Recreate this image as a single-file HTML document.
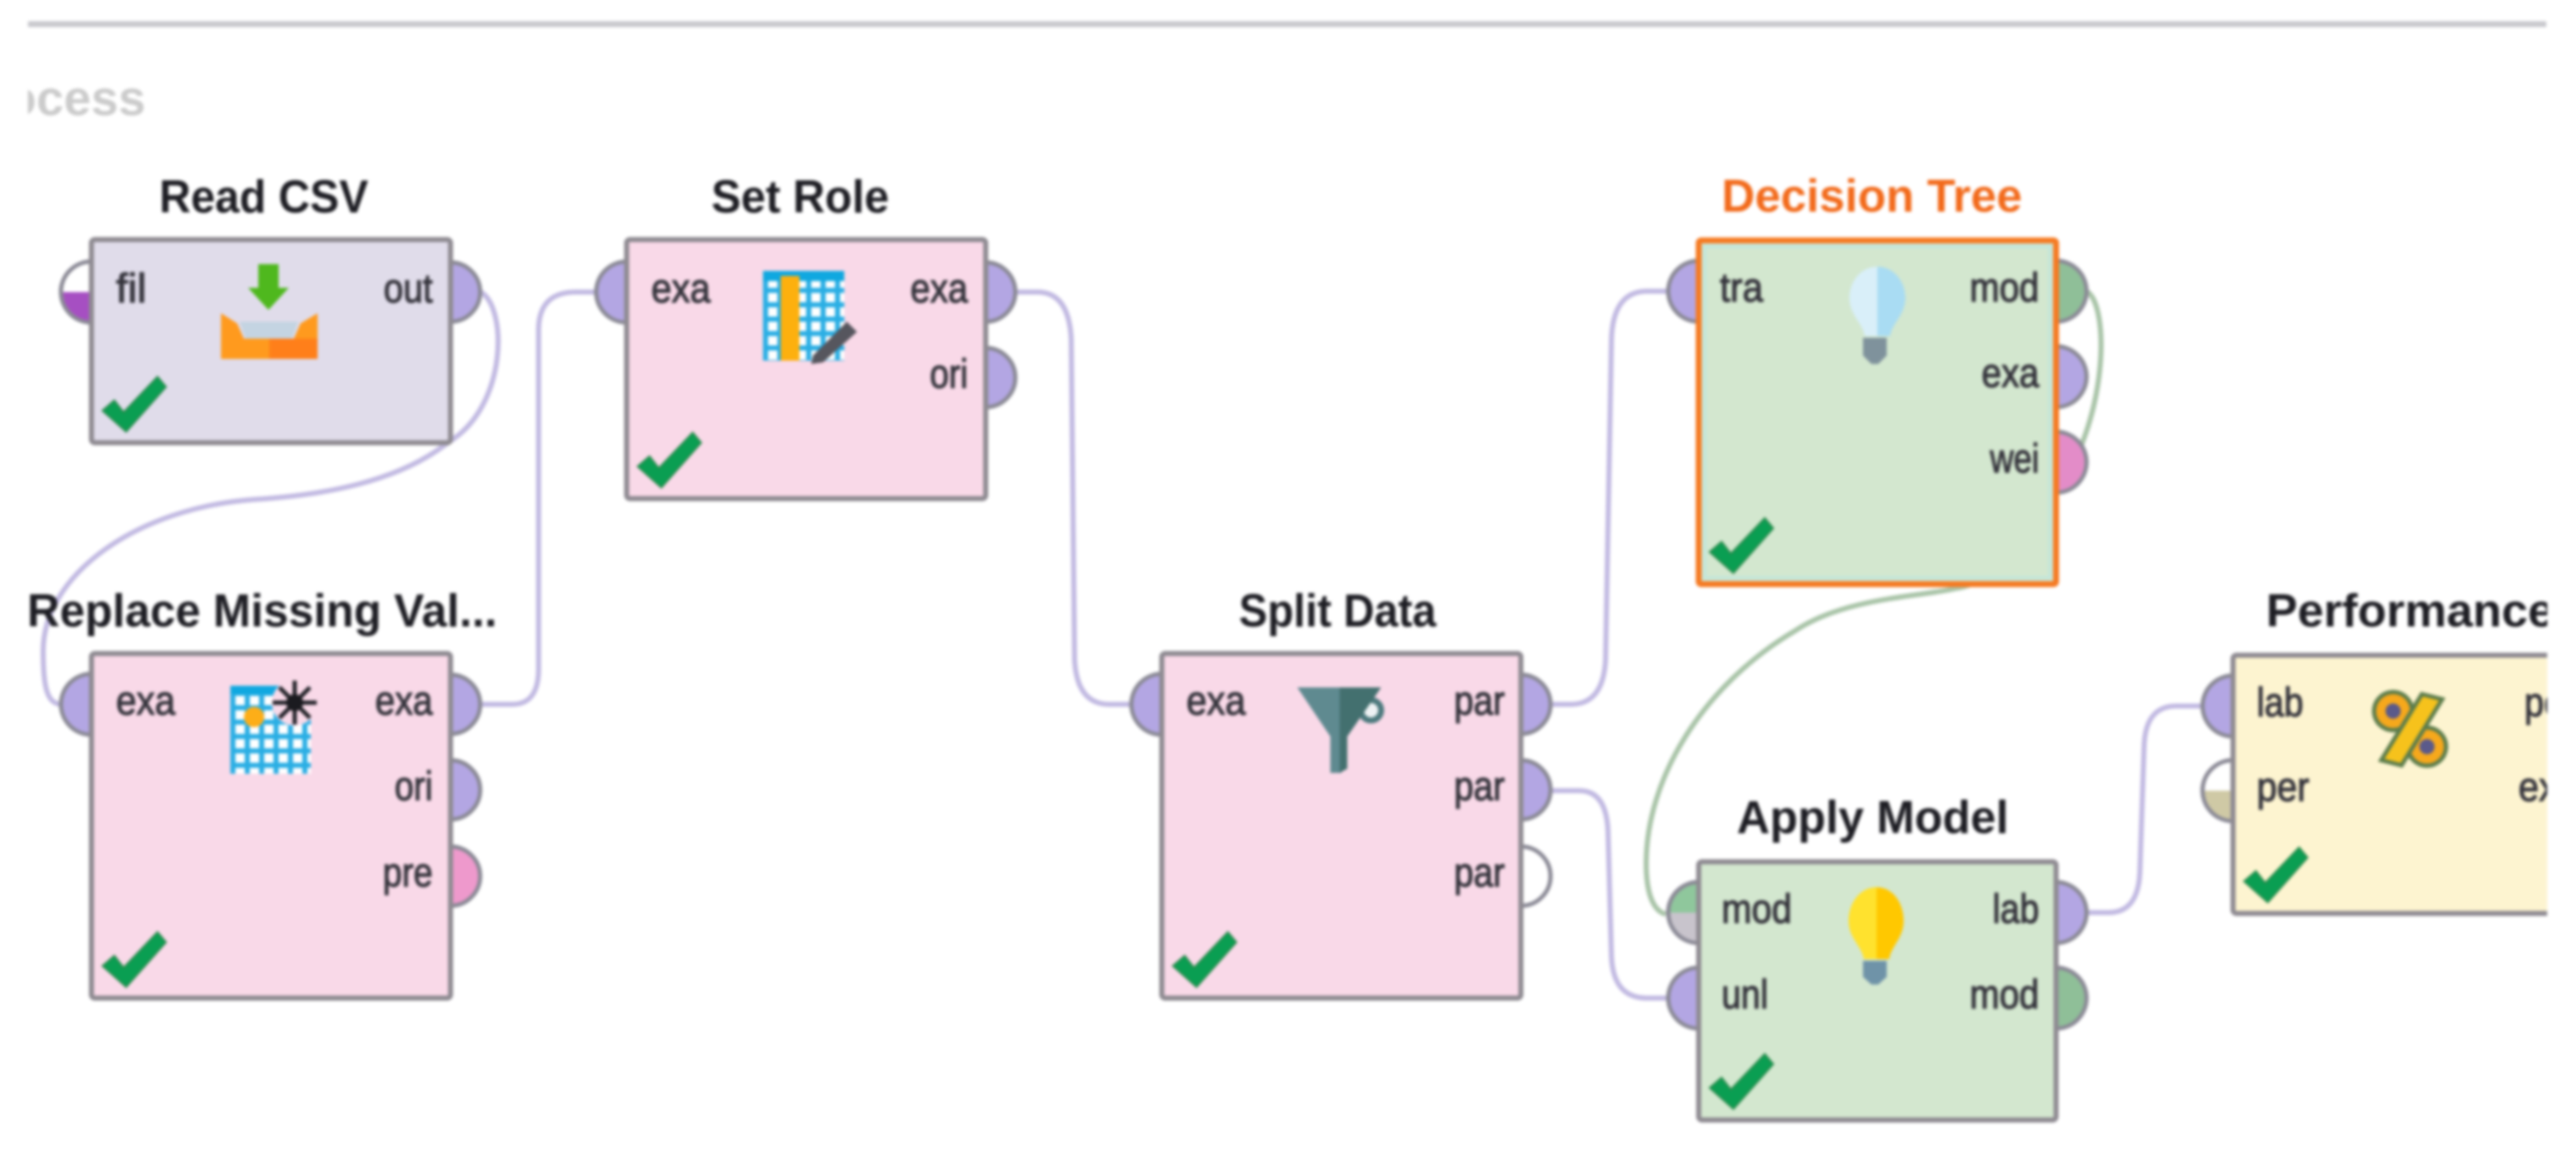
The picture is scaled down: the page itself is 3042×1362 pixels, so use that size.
<!DOCTYPE html>
<html lang="en">
<head>
<meta charset="utf-8">
<title>Process</title>
<style>
html,body{margin:0;padding:0;background:#fff;width:3042px;height:1362px;overflow:hidden}
svg{display:block;filter:blur(1.8px)}
.t{font-family:"Liberation Sans",sans-serif;font-weight:700;font-size:55px;fill:#1e1e24}
.l{font-family:"Liberation Sans",sans-serif;font-size:48px;fill:#35343c;stroke:#35343c;stroke-width:1.2px}
.b{stroke:#8f8b92;stroke-width:6}
.p{stroke:#8b8a96;stroke-width:5}
.w{fill:none;stroke:#c2bae2;stroke-width:6}
</style>
</head>
<body>
<svg xmlns="http://www.w3.org/2000/svg" width="3042" height="1362" viewBox="0 0 3042 1362">
<defs>
<clipPath id="cp"><rect x="33" y="60" width="200" height="100"/></clipPath>
<clipPath id="cr"><rect x="0" y="0" width="3008" height="1362"/></clipPath>
<clipPath id="top1"><rect x="60" y="300" width="60" height="45"/></clipPath>
<clipPath id="top2"><rect x="1950" y="1030" width="60" height="48"/></clipPath>
<clipPath id="top3"><rect x="2590" y="890" width="50" height="44"/></clipPath>
<pattern id="grid" x="0" y="0" width="17" height="17" patternUnits="userSpaceOnUse">
<rect width="17" height="17" fill="#ffffff"/>
<rect width="6" height="17" fill="#2aaee4"/>
<rect width="17" height="6" fill="#2aaee4"/>
</pattern>
<polygon id="ck" points="13,-38 27,-50 38,-36 78,-78 88,-66 41,-13" fill="#0a9e52" stroke="#2b8b4d" stroke-width="2"/>
</defs>
<rect width="3042" height="1362" fill="#fff"/>

<rect x="33" y="25" width="2974" height="7" fill="#c9c9ce"/>
<text x="172" y="136" text-anchor="end" clip-path="url(#cp)" font-family="'Liberation Sans',sans-serif" font-weight="700" font-size="58" fill="#cbcbcb">Process</text>

<!-- connectors -->
<path class="w" d="M566 344 C600 360 600 480 530 522 C470 570 380 585 300 590 C160 600 50 680 51 770 C51 810 55 832 73 832"/>
<path class="w" d="M566 832 L605 832 Q636 832 636 790 L636 390 Q636 345 680 345 L703 345"/>
<path class="w" d="M1199 345 L1225 345 Q1262 345 1265 400 L1269 780 Q1272 832 1310 832 L1338 832"/>
<path class="w" d="M1830 832 L1855 832 Q1893 832 1896 780 L1903 400 Q1905 344 1945 344 L1971 344"/>
<path class="w" d="M1830 934 L1865 934 Q1898 934 1899 985 L1903 1130 Q1905 1179 1945 1179 L1971 1179"/>
<path class="w" d="M2464 1078 L2490 1078 Q2525 1078 2527 1030 L2532 880 Q2534 834 2570 834 L2602 834"/>
<path class="w" style="stroke:#a9c4a8" d="M2464 344 C2492 360 2490 500 2425 585 C2400 640 2350 690 2310 695 C2270 705 2180 705 2120 745 C2010 810 1944 920 1944 1020 C1944 1050 1950 1075 1967 1080"/>

<!-- ports -->
<g class="p">
<circle cx="108" cy="345" r="36" fill="#a64fc2"/>
<circle cx="108" cy="345" r="36" fill="#ffffff" clip-path="url(#top1)"/>
<circle cx="532" cy="345" r="35" fill="#b3a6e3"/>
<circle cx="740" cy="345" r="36" fill="#b3a6e3"/>
<circle cx="1164" cy="345" r="35" fill="#b3a6e3"/>
<circle cx="1164" cy="446" r="35" fill="#b3a6e3"/>
<circle cx="108" cy="832" r="36" fill="#b3a6e3"/>
<circle cx="532" cy="832" r="35" fill="#b3a6e3"/>
<circle cx="532" cy="933" r="35" fill="#b3a6e3"/>
<circle cx="532" cy="1035" r="35" fill="#ee99cc"/>
<circle cx="1372" cy="832" r="36" fill="#b3a6e3"/>
<circle cx="1796" cy="832" r="35" fill="#b3a6e3"/>
<circle cx="1796" cy="933" r="35" fill="#b3a6e3"/>
<circle cx="1796" cy="1035" r="35" fill="#ffffff"/>
<circle cx="2006" cy="344" r="36" fill="#b3a6e3"/>
<circle cx="2428" cy="344" r="36" fill="#8fbf98"/>
<circle cx="2428" cy="445" r="36" fill="#b3a6e3"/>
<circle cx="2428" cy="546" r="36" fill="#e38cc8"/>
<circle cx="2006" cy="1078" r="36" fill="#c8c4cc"/>
<circle cx="2006" cy="1078" r="36" fill="#8fc79c" clip-path="url(#top2)"/>
<circle cx="2006" cy="1179" r="36" fill="#b3a6e3"/>
<circle cx="2428" cy="1078" r="36" fill="#b3a6e3"/>
<circle cx="2428" cy="1179" r="36" fill="#8fbf98"/>
<circle cx="2637" cy="834" r="36" fill="#b3a6e3"/>
<circle cx="2637" cy="934" r="36" fill="#cfc9a5"/>
<circle cx="2637" cy="934" r="36" fill="#ffffff" clip-path="url(#top3)"/>
</g>

<!-- boxes -->
<rect class="b" x="108" y="283" width="424" height="240" rx="4" fill="#e0dcea"/>
<rect class="b" x="740" y="283" width="424" height="306" rx="4" fill="#f9d9e8"/>
<rect class="b" x="108" y="772" width="424" height="407" rx="4" fill="#f9d9e8"/>
<rect class="b" x="1372" y="772" width="424" height="407" rx="4" fill="#f9d9e8"/>
<rect x="2006" y="284" width="422" height="406" rx="3" fill="#d3e7cf" stroke="#f57a22" stroke-width="7"/>
<rect x="2013" y="291" width="408" height="392" fill="none" stroke="#c4e6da" stroke-width="5"/>
<rect class="b" x="2006" y="1018" width="422" height="305" rx="4" fill="#d3e7cf"/>
<g clip-path="url(#cr)"><rect class="b" x="2637" y="774" width="460" height="305" rx="4" fill="#fdf4d0"/></g>

<!-- titles -->
<text class="t" x="188" y="251" textLength="247" lengthAdjust="spacingAndGlyphs">Read CSV</text>
<text class="t" x="840" y="251" textLength="210" lengthAdjust="spacingAndGlyphs">Set Role</text>
<text class="t" x="32" y="740" textLength="555" lengthAdjust="spacingAndGlyphs">Replace Missing Val...</text>
<text class="t" x="1463" y="740" textLength="233" lengthAdjust="spacingAndGlyphs">Split Data</text>
<text class="t" x="2033" y="250" textLength="355" lengthAdjust="spacingAndGlyphs" style="fill:#f26a1b">Decision Tree</text>
<text class="t" x="2051" y="984" textLength="321" lengthAdjust="spacingAndGlyphs">Apply Model</text>
<g clip-path="url(#cr)"><text class="t" x="2676" y="740" textLength="340" lengthAdjust="spacingAndGlyphs">Performance</text></g>

<!-- labels -->
<text class="l" x="137" y="357" textLength="36" lengthAdjust="spacingAndGlyphs">fil</text>
<text class="l" x="453" y="357" textLength="58" lengthAdjust="spacingAndGlyphs">out</text>
<text class="l" x="769" y="357" textLength="70" lengthAdjust="spacingAndGlyphs">exa</text>
<text class="l" x="1075" y="357" textLength="68" lengthAdjust="spacingAndGlyphs">exa</text>
<text class="l" x="1098" y="458" textLength="45" lengthAdjust="spacingAndGlyphs">ori</text>
<text class="l" x="137" y="844" textLength="70" lengthAdjust="spacingAndGlyphs">exa</text>
<text class="l" x="443" y="844" textLength="68" lengthAdjust="spacingAndGlyphs">exa</text>
<text class="l" x="466" y="945" textLength="45" lengthAdjust="spacingAndGlyphs">ori</text>
<text class="l" x="452" y="1047" textLength="59" lengthAdjust="spacingAndGlyphs">pre</text>
<text class="l" x="1401" y="844" textLength="70" lengthAdjust="spacingAndGlyphs">exa</text>
<text class="l" x="1717" y="844" textLength="60" lengthAdjust="spacingAndGlyphs">par</text>
<text class="l" x="1717" y="945" textLength="60" lengthAdjust="spacingAndGlyphs">par</text>
<text class="l" x="1717" y="1047" textLength="60" lengthAdjust="spacingAndGlyphs">par</text>
<text class="l" x="2031" y="356" textLength="51" lengthAdjust="spacingAndGlyphs">tra</text>
<text class="l" x="2326" y="356" textLength="82" lengthAdjust="spacingAndGlyphs">mod</text>
<text class="l" x="2340" y="457" textLength="68" lengthAdjust="spacingAndGlyphs">exa</text>
<text class="l" x="2350" y="558" textLength="58" lengthAdjust="spacingAndGlyphs">wei</text>
<text class="l" x="2033" y="1090" textLength="83" lengthAdjust="spacingAndGlyphs">mod</text>
<text class="l" x="2033" y="1191" textLength="55" lengthAdjust="spacingAndGlyphs">unl</text>
<text class="l" x="2353" y="1090" textLength="55" lengthAdjust="spacingAndGlyphs">lab</text>
<text class="l" x="2326" y="1191" textLength="82" lengthAdjust="spacingAndGlyphs">mod</text>
<text class="l" x="2665" y="846" textLength="55" lengthAdjust="spacingAndGlyphs">lab</text>
<text class="l" x="2665" y="946" textLength="62" lengthAdjust="spacingAndGlyphs">per</text>
<g clip-path="url(#cr)">
<text class="l" x="2981" y="846" textLength="60" lengthAdjust="spacingAndGlyphs">per</text>
<text class="l" x="2974" y="946" textLength="70" lengthAdjust="spacingAndGlyphs">exa</text>
</g>

<!-- checks -->
<use href="#ck" x="108" y="523"/>
<use href="#ck" x="740" y="589"/>
<use href="#ck" x="108" y="1179"/>
<use href="#ck" x="1372" y="1179"/>
<use href="#ck" x="2006" y="690"/>
<use href="#ck" x="2006" y="1323"/>
<use href="#ck" x="2637" y="1079"/>

<!-- Read CSV icon -->
<polygon points="305,312 329,312 329,340 341,340 317,366 293,340 305,340" fill="#4fb81e"/>
<polygon points="261,370 280,382 288,400 347,400 355,382 375,370 375,424 261,424" fill="#ff9a1e"/>
<rect x="318" y="400" width="57" height="24" fill="#ff7f1a"/>
<polygon points="283,380 352,380 345,400 290,400" fill="#c4d4e2"/>

<!-- Set Role icon -->
<rect x="901" y="320" width="96" height="106" fill="url(#grid)"/>
<rect x="901" y="320" width="96" height="12" fill="#10a8e0"/>
<rect x="922" y="326" width="22" height="100" fill="#fdb00e"/>
<polygon points="960,420 1000,380 1012,392 972,428 958,430" fill="#56565e"/>

<!-- Replace Missing icon -->
<rect x="272" y="810" width="95" height="104" fill="url(#grid)"/>
<rect x="272" y="810" width="95" height="10" fill="#10a8e0"/>
<circle cx="300" cy="847" r="12" fill="#fdae18"/>
<circle cx="348" cy="830" r="27" fill="#f9d9e8"/>
<g stroke="#222228" stroke-width="5" fill="none">
<line x1="348" y1="804" x2="348" y2="856"/><line x1="322" y1="830" x2="374" y2="830"/>
<line x1="330" y1="812" x2="366" y2="848"/><line x1="366" y1="812" x2="330" y2="848"/>
</g>
<circle cx="348" cy="830" r="10" fill="#1b1b20"/>

<!-- Funnel -->
<circle cx="1619" cy="839" r="12" fill="#eef2f4" stroke="#4d7a7e" stroke-width="7"/>
<polygon points="1532,812 1584,812 1584,913 1571,913 1571,870" fill="#5f8a90"/>
<polygon points="1582,812 1631,812 1591,870 1591,908 1582,913" fill="#43706f"/>

<!-- Decision Tree bulb -->
<path d="M2217 315 C2198 315 2184 332 2184 352 C2184 372 2200 382 2202 397 L2217 397 Z" fill="#d9eff9"/>
<path d="M2217 315 C2236 315 2250 332 2250 352 C2250 372 2234 382 2232 397 L2217 397 Z" fill="#a9dcf3"/>
<path d="M2200 399 H2228 V420 L2218 430 H2210 L2200 420 Z" fill="#7f929c"/>

<!-- Apply Model bulb -->
<path d="M2216 1048 C2197 1048 2183 1066 2183 1088 C2183 1108 2199 1118 2201 1133 L2216 1133 Z" fill="#ffe22e"/>
<path d="M2216 1048 C2235 1048 2248 1066 2248 1088 C2248 1108 2233 1118 2231 1133 L2216 1133 Z" fill="#ffc800"/>
<path d="M2200 1135 H2228 V1154 L2218 1163 H2210 L2200 1154 Z" fill="#6f93a8"/>

<!-- Percent icon -->
<circle cx="2826" cy="840" r="25" fill="#5d7d4c"/>
<circle cx="2866" cy="882" r="25" fill="#5d7d4c"/>
<circle cx="2826" cy="840" r="20" fill="#f6a81c"/>
<circle cx="2866" cy="882" r="20" fill="#f6a81c"/>
<circle cx="2826" cy="840" r="9" fill="#5b5a8a"/>
<circle cx="2866" cy="882" r="9" fill="#5b5a8a"/>
<polygon points="2860,820 2884,826 2836,904 2812,898" fill="#f6c21c" stroke="#5d7d4c" stroke-width="5"/>
</svg>
</body>
</html>
